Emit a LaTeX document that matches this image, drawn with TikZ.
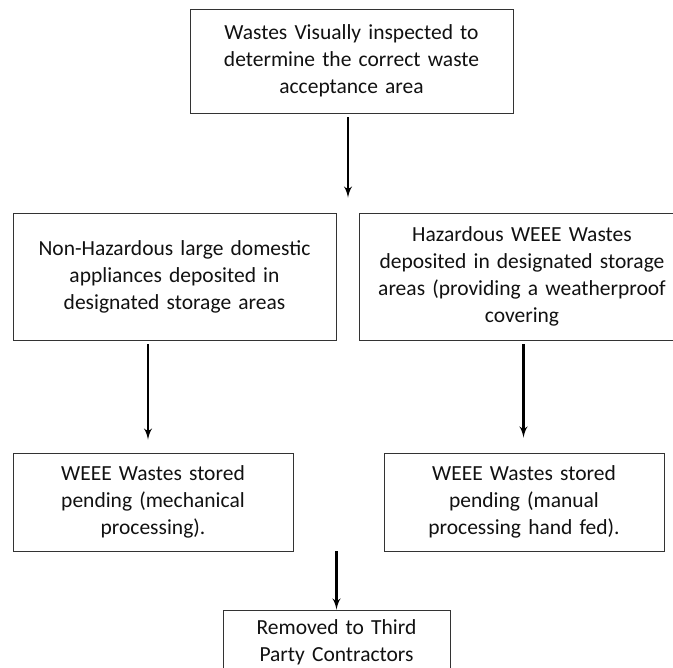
\documentclass[tikz,border=0pt]{standalone}
\usepackage{fontspec}
\setmainfont{Carlito}
\usetikzlibrary{shapes, arrows}
\definecolor{boxline}{HTML}{333333}
\definecolor{boxtext}{HTML}{111111}
\tikzstyle{block} = [rectangle, draw=boxline, line width=0.9pt, text=boxtext,
    text centered, inner xsep=6pt, font=\fontsize{21.5}{27}\selectfont]
\tikzstyle{line} = [draw, -latex', line width=2.8pt]

\begin{document}
\begin{tikzpicture}[node distance = 2cm, auto]
        \useasboundingbox (0,0) rectangle (673pt,-668pt);
        % Place nodes
        \node [block, text width=311pt, minimum height=104pt] at (351.5pt,-61pt) (inspect) {Wastes Visually inspected to\\ determine the correct waste\\ acceptance area};
        \node [block, text width=311pt, minimum height=127pt, node distance=215.5pt, below of=inspect, xshift=-177pt] (nonhaz) {Non-Hazardous large domestic\\ appliances deposited in\\ designated storage areas};
        \node [block, text width=314pt, minimum height=127pt, node distance=347.5pt, right of=nonhaz] (haz) {Hazardous WEEE Wastes\\ deposited in designated storage\\ areas (providing a weatherproof\\ covering};
        \node [block, text width=268pt, minimum height=98pt, node distance=225.5pt, below of=nonhaz, xshift=-21.5pt] (mech) {WEEE Wastes stored\\ pending (mechanical\\ processing).};
        \node [block, text width=268pt, minimum height=98pt, node distance=225.5pt, below of=haz, xshift=2pt] (manual) {WEEE Wastes stored\\ pending (manual\\ processing hand fed).};
        \node [block, text width=215pt, minimum height=64pt, node distance=140pt, below of=mech, xshift=183.5pt] (removed) {Removed to Third\\ Party Contractors};
        % Draw edges
        \path [line] ([xshift=-3.5pt,yshift=-4pt]inspect.south) -- ([xshift=-3.5pt,yshift=15pt]inspect.south |- nonhaz.north);
        \path [line] ([xshift=-26.5pt,yshift=-4pt]nonhaz.south) -- ([xshift=-5pt,yshift=13pt]mech.north);
        \path [line] ([xshift=1.5pt,yshift=-4pt]haz.south) -- ([xshift=-0.5pt,yshift=15pt]manual.north);
        \path [line] (removed.north |- mech.south) -- (removed.north);
\end{tikzpicture}
\end{document}
